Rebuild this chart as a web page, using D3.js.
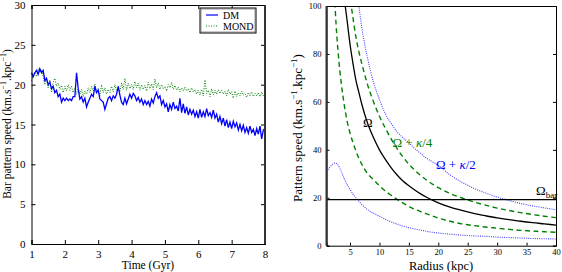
<!DOCTYPE html>
<html lang="en">
<head>
<meta charset="UTF-8">
<title>Bar pattern speed</title>
<script src="https://d3js.org/d3.v7.min.js"></script>
<style>
  body { margin: 0; background: #fff; }
  svg { display: block; }
  svg text { font-family: "Liberation Serif", "Times New Roman", "DejaVu Serif", serif; }
</style>
</head>
<body>
<svg width="562" height="272"></svg>
<script>
// ---- left panel data: time (Gyr) every 0.05 ----
const timeStart = 1, timeStep = 0.05;
const dmSpeed = [
  21.5, 21.0, 21.5, 21.8, 21.3, 22.0, 21.5, 21.8, 20.5, 20.8,
  20.0, 20.3, 19.5, 19.8, 19.0, 19.3, 18.5, 18.8, 17.8, 18.3,
  18.0, 18.3, 18.0, 18.2, 18.0, 18.5, 18.5, 21.5, 19.5, 18.2,
  18.5, 17.8, 18.3, 17.2, 17.8, 18.3, 18.8, 18.5, 19.8, 19.0,
  19.3, 18.2, 18.0, 17.8, 16.9, 17.6, 18.3, 18.5, 18.0, 18.6,
  18.3, 18.8, 19.8, 18.7, 17.8, 17.5, 18.3, 17.6, 18.2, 18.8,
  18.3, 18.9, 18.6, 18.0, 18.4, 17.8, 18.2, 17.5, 18.0, 17.5,
  17.9, 17.3, 18.2, 17.7, 18.5, 19.0, 18.3, 18.6, 17.5, 18.0,
  17.2, 17.6, 16.6, 17.5, 16.9, 17.8, 17.0, 17.3, 16.7, 18.3,
  16.5, 17.6, 16.4, 17.2, 16.2, 16.9, 16.3, 16.8, 16.0, 16.6,
  15.8, 16.9, 15.9, 16.6, 16.0, 17.0, 16.1, 16.5, 15.9, 16.8,
  15.8, 16.3, 15.3, 16.0, 15.1, 15.8, 14.8, 15.6, 14.6, 15.3,
  14.5, 15.4, 14.7, 15.2, 14.3, 15.0, 14.2, 14.9, 14.0, 14.6,
  13.9, 14.8, 14.0, 14.4, 13.6, 14.5, 13.8, 14.8, 13.2, 14.3,
  14.5
];
const mondSpeed = [
  20.5, 21.2, 21.6, 21.0, 22.0, 21.5, 21.8, 21.0, 20.0, 20.8,
  19.6, 20.6, 19.0, 20.3, 20.8, 19.8, 20.2, 19.4, 19.9, 19.0,
  19.8, 19.2, 20.0, 19.3, 19.8, 19.0, 19.6, 18.8, 19.5, 18.8,
  19.4, 18.5, 19.2, 18.8, 19.6, 19.0, 19.8, 19.2, 20.1, 19.0,
  19.5, 18.6, 20.0, 19.0, 19.6, 18.8, 19.4, 19.0, 19.8, 19.1,
  20.0, 19.3, 19.7, 19.1, 20.2, 19.4, 20.8, 19.3, 20.2, 19.5,
  20.0, 19.4, 20.4, 19.6, 20.2, 19.3, 20.0, 19.4, 19.9, 19.2,
  20.3, 19.5, 20.1, 19.4, 20.7, 19.6, 20.2, 19.4, 20.0, 19.5,
  19.8, 19.2, 20.0, 19.6, 20.3, 19.4, 19.9, 19.3, 19.7, 19.1,
  19.6, 19.2, 19.7, 19.2, 19.5, 19.0, 19.6, 19.1, 19.4, 18.8,
  19.3, 18.7, 19.4, 18.6, 20.6, 18.9, 19.3, 18.5, 19.5, 18.7,
  19.3, 18.8, 19.4, 18.9, 19.3, 18.8, 19.2, 18.6, 19.4, 18.8,
  19.1, 18.3, 19.2, 18.5, 19.0, 18.6, 19.2, 18.7, 18.9, 18.4,
  19.0, 18.6, 19.1, 18.5, 18.9, 18.6, 19.0, 18.5, 19.1, 18.6,
  18.4
];
const timeTicks = [1, 2, 3, 4, 5, 6, 7, 8];
const speedTicks = [0, 5, 10, 15, 20, 25, 30];

// ---- right panel data: radius (kpc) ----
const radius = [1, 1.5, 2, 2.5, 3, 3.5, 4, 4.5, 5, 5.5, 6, 6.5, 7, 8, 9, 10, 11, 12, 13, 14,
  15, 16, 17, 18, 19, 20, 22, 24, 26, 28, 30, 32, 34, 36, 38, 40];
const omega = [260, 220, 190, 160, 138, 118, 104, 94, 84, 76, 69, 64, 59, 51, 45, 40, 36, 32.5, 29.5, 27,
  25, 23.2, 21.6, 20.2, 19.0, 17.9, 16.1, 14.7, 13.5, 12.5, 11.6, 10.9, 10.2, 9.6, 9.1, 8.6];
const omegaPlusK4 = [400, 320, 250, 210, 180, 150, 130, 115, 104, 95, 87, 81, 76, 67, 60, 54, 49, 44.5, 40.5, 37,
  34, 31.5, 29.3, 27.4, 25.7, 24.2, 21.8, 19.9, 18.3, 16.9, 15.7, 14.7, 13.8, 13.0, 12.3, 11.7];
const omegaMinusK4 = [300, 190, 130, 98, 80, 68, 59, 52, 47, 43, 39.5, 36.5, 34, 30, 27.5, 25, 22.8, 21, 19.3, 17.8,
  16.4, 15.2, 14.2, 13.3, 12.4, 11.5, 10.2, 9.1, 8.4, 7.8, 7.3, 6.8, 6.4, 6.1, 5.8, 5.6];
const omegaPlusK2 = [500, 400, 300, 250, 200, 180, 160, 140, 130, 118, 110, 100, 91, 78, 68, 61, 55, 51, 47.5, 45,
  43, 40.5, 38.5, 36.5, 35, 33.5, 29.5, 26.5, 24, 22, 20.3, 18.9, 17.6, 16.6, 15.8, 15.0];
const omegaMinusK2 = [31, 32.5, 34, 34.5, 33.5, 31, 28, 25.5, 23.5, 21.5, 20, 18.6, 17.2, 15, 13.5, 12.3, 11, 9.9, 9, 8.2,
  7.5, 7.0, 6.5, 6.0, 5.6, 5.3, 4.8, 4.4, 4.1, 3.9, 3.6, 3.4, 3.2, 3.0, 2.9, 2.8];
const omegaBar = 19.2;
const radiusTicks = [5, 10, 15, 20, 25, 30, 35, 40];
const patternTicks = [0, 20, 40, 60, 80, 100];

const svg = d3.select("svg");
const blue = "#0000ff", green = "#008000";
const serif = "'Liberation Serif', 'Times New Roman', 'DejaVu Serif', serif";

// helper: km.s^-1.kpc^-1 label
function unitLabel(sel, prefix, size) {
  sel.append("tspan").text(prefix + " (km.s");
  sel.append("tspan").attr("font-size", size * 0.7).attr("dy", -size * 0.4).text("−1");
  sel.append("tspan").attr("dy", size * 0.4).text(".kpc");
  sel.append("tspan").attr("font-size", size * 0.7).attr("dy", -size * 0.4).text("−1");
  sel.append("tspan").attr("dy", size * 0.4).text(")");
}

// ================= left panel =================
const xL = d3.scaleLinear().domain([1, 8]).range([31.5, 265]);
const yL = d3.scaleLinear().domain([0, 30]).range([244, 5]);
const left = svg.append("g");

const dmData = dmSpeed.map((v, i) => [timeStart + i * timeStep, v]);
const mondData = mondSpeed.map((v, i) => [timeStart + i * timeStep, v]);
const lineL = d3.line().x(d => xL(d[0])).y(d => yL(d[1]));

left.append("path").datum(mondData).attr("d", lineL)
  .attr("fill", "none").attr("stroke", green).attr("stroke-width", 1)
  .attr("stroke-dasharray", "1,1.5");
left.append("path").datum(dmData).attr("d", lineL)
  .attr("fill", "none").attr("stroke", blue).attr("stroke-width", 1.3);

// axes, ticks inward
left.append("g").attr("transform", "translate(0,244)")
  .call(d3.axisBottom(xL).tickValues(timeTicks).tickSize(-4).tickPadding(6).tickFormat(d3.format("d")));
left.append("g").attr("transform", "translate(0,5)")
  .call(d3.axisTop(xL).tickValues(timeTicks).tickSize(-4).tickFormat(""));
left.append("g").attr("transform", "translate(31.5,0)")
  .call(d3.axisLeft(yL).tickValues(speedTicks).tickSize(-4).tickPadding(6).tickFormat(d3.format("d")));
left.append("g").attr("transform", "translate(265,0)")
  .call(d3.axisRight(yL).tickValues(speedTicks).tickSize(-4).tickFormat(""));
left.selectAll(".domain").attr("stroke", "#000");
left.selectAll(".tick text").attr("font-size", 11).attr("fill", "#000");
left.append("line").attr("x1", 265).attr("x2", 265).attr("y1", 5).attr("y2", 244)
  .attr("stroke", "#333").attr("stroke-width", 2);

left.append("text").attr("x", 148).attr("y", 269).attr("text-anchor", "middle")
  .attr("font-size", 11.5).text("Time (Gyr)");
unitLabel(left.append("text").attr("transform", "translate(11,124) rotate(-90)")
  .attr("text-anchor", "middle").attr("font-size", 11.5), "Bar pattern speed", 11.5);

// legend
const leg = left.append("g").attr("transform", "translate(200,8)");
leg.append("rect").attr("width", 56).attr("height", 25).attr("fill", "#fff")
  .attr("stroke", "#000").attr("stroke-width", 1);
leg.append("rect").attr("x", 1).attr("y", 1).attr("width", 54).attr("height", 23).attr("fill", "none")
  .attr("stroke", "#555").attr("stroke-width", 0.6);
leg.append("line").attr("x1", 6).attr("x2", 18).attr("y1", 7).attr("y2", 7)
  .attr("stroke", blue).attr("stroke-width", 1.2);
leg.append("line").attr("x1", 6).attr("x2", 18).attr("y1", 18).attr("y2", 18)
  .attr("stroke", green).attr("stroke-width", 1).attr("stroke-dasharray", "1,1.5");
leg.append("text").attr("x", 23).attr("y", 10.5).attr("font-size", 10).text("DM");
leg.append("text").attr("x", 23).attr("y", 21.5).attr("font-size", 10).text("MOND");

// ================= right panel =================
const xR = d3.scaleLinear().domain([1, 40]).range([326.5, 556]);
const yR = d3.scaleLinear().domain([0, 100]).range([245.7, 6]);
const right = svg.append("g");

right.append("clipPath").attr("id", "clipR").append("rect")
  .attr("x", 326.5).attr("y", 6).attr("width", 556 - 326.5).attr("height", 245.7 - 6);

const plot = right.append("g").attr("clip-path", "url(#clipR)");
const lineR = d3.line().x((d, i) => xR(radius[i])).y(d => yR(d)).curve(d3.curveMonotoneX);

plot.append("path").datum(omegaPlusK2).attr("d", lineR).attr("fill", "none")
  .attr("stroke", "#2020ff").attr("stroke-width", 1.1).attr("stroke-dasharray", "1,1.2").attr("opacity", 0.85);
plot.append("path").datum(omegaMinusK2).attr("d", lineR).attr("fill", "none")
  .attr("stroke", "#2020ff").attr("stroke-width", 1.1).attr("stroke-dasharray", "1,1.2").attr("opacity", 0.85);
plot.append("path").datum(omegaPlusK4).attr("d", lineR).attr("fill", "none")
  .attr("stroke", green).attr("stroke-width", 1.4).attr("stroke-dasharray", "5,3.5");
plot.append("path").datum(omegaMinusK4).attr("d", lineR).attr("fill", "none")
  .attr("stroke", green).attr("stroke-width", 1.4).attr("stroke-dasharray", "5,3.5");
plot.append("path").datum(omega).attr("d", lineR).attr("fill", "none")
  .attr("stroke", "#000").attr("stroke-width", 1.3);
plot.append("line").attr("x1", xR(1)).attr("x2", xR(40))
  .attr("y1", yR(omegaBar)).attr("y2", yR(omegaBar)).attr("stroke", "#000").attr("stroke-width", 1.3);

right.append("g").attr("transform", "translate(0,245.7)")
  .call(d3.axisBottom(xR).tickValues(radiusTicks).tickSize(-3).tickPadding(3).tickFormat(d3.format("d")));
right.append("g").attr("transform", "translate(0,6)")
  .call(d3.axisTop(xR).tickValues(radiusTicks).tickSize(0).tickFormat(""));
right.append("g").attr("transform", "translate(326.5,0)")
  .call(d3.axisLeft(yR).tickValues(patternTicks).tickSize(-3).tickPadding(5).tickFormat(d3.format("d")));
right.append("g").attr("transform", "translate(556,0)")
  .call(d3.axisRight(yR).tickValues(patternTicks).tickSize(-3).tickFormat(""));
right.selectAll(".domain").attr("stroke", "#000");
right.selectAll(".tick text").attr("font-size", 8.5).attr("fill", "#000");
right.append("line").attr("x1", 326.5).attr("x2", 326.5).attr("y1", 6).attr("y2", 245.7)
  .attr("stroke", "#333").attr("stroke-width", 2);

right.append("text").attr("x", 441).attr("y", 270).attr("text-anchor", "middle")
  .attr("font-size", 12.5).text("Radius (kpc)");
unitLabel(right.append("text").attr("transform", "translate(302,128) rotate(-90)")
  .attr("text-anchor", "middle").attr("font-size", 13), "Pattern speed", 13);

// curve labels
right.append("text").attr("x", xR(7.2)).attr("y", yR(49.5)).attr("font-size", 13).text("Ω");
const k4 = right.append("text").attr("x", xR(12.2)).attr("y", yR(41)).attr("font-size", 13).attr("fill", green);
k4.append("tspan").text("Ω + ");
k4.append("tspan").attr("font-style", "italic").text("κ");
k4.append("tspan").text("/4");
const k2 = right.append("text").attr("x", xR(19.6)).attr("y", yR(32)).attr("font-size", 13).attr("fill", blue);
k2.append("tspan").text("Ω + ");
k2.append("tspan").attr("font-style", "italic").text("κ");
k2.append("tspan").text("/2");
const ob = right.append("text").attr("x", xR(36.6)).attr("y", yR(21.3)).attr("font-size", 13);
ob.append("tspan").text("Ω");
ob.append("tspan").attr("font-size", 9).attr("dy", 3).text("bar");

// d3 axis groups set their own font-family; force the serif face on every text
svg.selectAll("g").attr("font-family", serif);
svg.selectAll("text").style("font-family", serif);
</script>
</body>
</html>
